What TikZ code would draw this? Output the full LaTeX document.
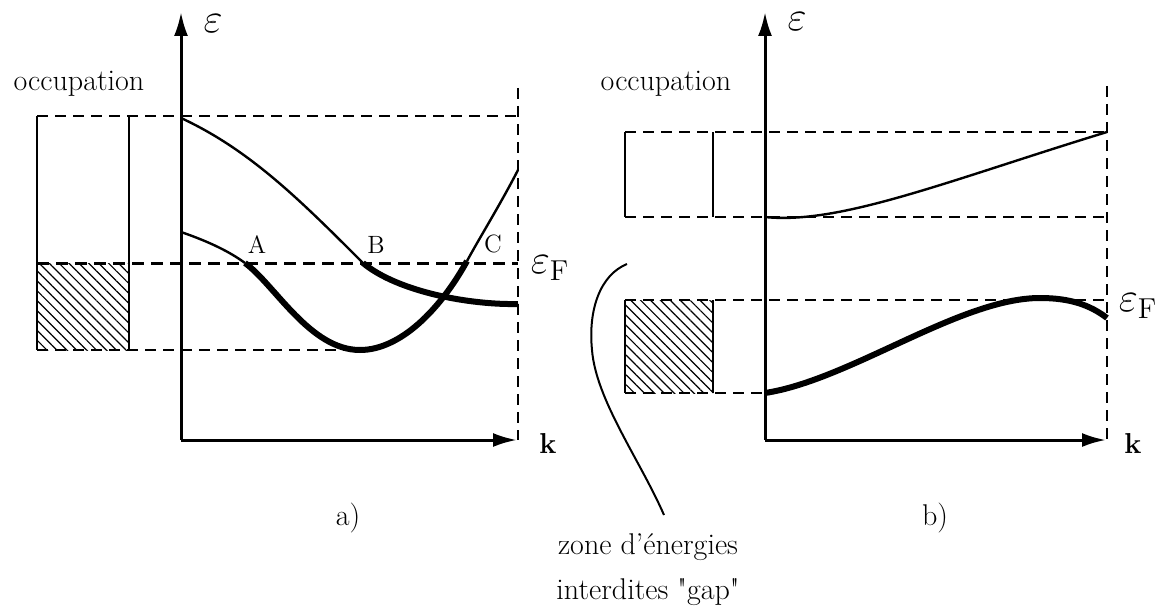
\documentclass[tikz,border=0pt]{standalone}
\usepackage{amsmath,amssymb}
\usetikzlibrary{arrows.meta,patterns.meta}

\begin{document}
\begin{tikzpicture}[x=0.5pt,y=-0.5pt,
every node/.style={inner sep=0pt,font=\fontsize{15}{18}\selectfont},
big/.style={font=\fontsize{20}{22}\selectfont},
pt/.style={font=\fontsize{12.5}{15}\selectfont},
axis/.style={line width=1.5pt,-{Latex[length=12pt,width=7pt]}},
dsh/.style={line width=0.9pt,dash pattern=on 5.5pt off 3.5pt},
fermi/.style={line width=1.5pt,dash pattern=on 6pt off 3.5pt},
side/.style={line width=1pt},
thinband/.style={line width=1.2pt},
fullband/.style={line width=3pt},
hatch/.style={pattern={Lines[angle=-45,distance=3.5pt,line width=0.6pt]}}]

\useasboundingbox (0,0) rectangle (1155,610);

\fill[hatch] (37,263) rectangle (129,350);
\draw[side] (37,116) -- (37,350);
\draw[side] (129,116) -- (129,350);
\draw[dsh] (37,116) -- (518,116);
\draw[fermi] (37,263) -- (518,263);
\draw[dsh] (37,350) -- (360,350);
\draw[dsh] (518,88) -- (518,440);
\draw[axis] (181,440) -- (181,12);
\draw[axis] (181,440) -- (517,440);

\draw[thinband] (181,118) .. controls (250,150) and (300,200) .. (363,263);
\draw[fullband] (363,263) .. controls (398,292) and (470,305) .. (518,304);
\draw[thinband] (181,232) .. controls (210,242) and (230,252) .. (245,263);
\draw[fullband] (245,263) .. controls (275,285) and (310,350) .. (360,350)
  .. controls (400,350) and (440,310) .. (467,261);
\draw[thinband] (467,261) .. controls (480,237) and (500,205) .. (518,170);

\node (occA) at (79,84) {occupation};
\node[big] (epsA) at (213,24) {$\varepsilon$};
\node (kA) at (548,443) {$\mathbf{k}$};
\node[pt] (ptA) at (257,245) {A};
\node[pt] (ptB) at (376,245) {B};
\node[pt] (ptC) at (493,244) {C};
\node[big] (efA) at (550,268) {$\varepsilon_{\mathrm F}$};
\node (labA) at (348,518) {a)};


\fill[hatch] (625,300) rectangle (713,393);
\draw[side] (625,132) -- (625,217);
\draw[side] (713,132) -- (713,217);
\draw[side] (625,300) -- (625,393);
\draw[side] (713,300) -- (713,393);
\draw[dsh] (625,132) -- (1107,132);
\draw[dsh] (625,217) -- (1107,217);
\draw[dsh] (625,300) -- (1107,300);
\draw[dsh] (625,393) -- (765,393);
\draw[dsh] (1107,86) -- (1107,440);
\draw[axis] (765,440) -- (765,12);
\draw[axis] (765,440) -- (1106,440);

\draw[thinband] (765,217) .. controls (840,225) and (950,180) .. (1107,132);
\draw[fullband] (765,393) .. controls (850,380) and (960,298) .. (1040,298)
  .. controls (1070,298) and (1090,305) .. (1107,318);

\node (occB) at (666,84) {occupation};
\node[big] (epsB) at (797,22) {$\varepsilon$};
\node (kB) at (1133,443) {$\mathbf{k}$};
\node[big] (efB) at (1138,306) {$\varepsilon_{\mathrm F}$};
\node (labB) at (935,518) {b)};

\node[align=center,font=\fontsize{15}{22.5}\selectfont] (gap) at (648,570) {zone d'énergies\\interdites \textquotedbl gap\textquotedbl};
\coordinate (g1) at (627,264);
\coordinate (g2) at (664,515);
\draw[line width=1pt] (g1) .. controls (600,275) and (588,310) .. (592,350)
  .. controls (596,400) and (640,460) .. (g2);

\end{tikzpicture}
\end{document}
